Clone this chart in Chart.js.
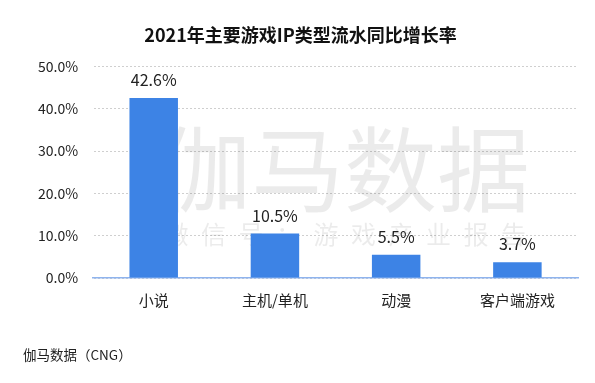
<!DOCTYPE html>
<html>
<head>
<meta charset="utf-8">
<script src="https://cdn.jsdelivr.net/npm/chart.js@4"></script>
<style>
  html, body { margin: 0; padding: 0; background: #fff; }
  #wrap { position: relative; width: 595px; height: 383px; }
</style>
</head>
<body>
<div id="wrap"><canvas id="chart" width="595" height="383"></canvas></div>
<script>
const categories = ['小说', '主机/单机', '动漫', '客户端游戏'];
const growth = [42.6, 10.5, 5.5, 3.7];
const yTicks = [0, 10, 20, 30, 40, 50];

const FONT = "'Noto Sans CJK SC', 'Noto Sans', sans-serif";

const watermark = {
    id: 'watermark',
    beforeDatasetsDraw(chart) {
        const ctx = chart.ctx;
        ctx.save();
        ctx.fillStyle = 'rgba(0,0,0,0.08)';
        ctx.textAlign = 'center';
        ctx.textBaseline = 'middle';
        ctx.font = '93px ' + FONT;
        ctx.fillText('伽马数据', 344, 170);
        ctx.font = '25px ' + FONT;
        const small = '微信号：游戏产业报告'.split('');
        small.forEach((ch, i) => ctx.fillText(ch, 176 + i * 37.5, 234));
        ctx.restore();
    },
};

const valueLabels = {
    id: 'valueLabels',
    afterDatasetsDraw(chart) {
        const ctx = chart.ctx;
        const meta = chart.getDatasetMeta(0);
        ctx.save();
        ctx.fillStyle = '#222';
        ctx.font = '16px ' + FONT;
        ctx.textAlign = 'center';
        ctx.textBaseline = 'middle';
        meta.data.forEach((bar, i) => {
            ctx.fillText(growth[i].toFixed(1) + '%', bar.x, bar.y - 18);
        });
        ctx.restore();
    },
};

const footer = {
    id: 'footer',
    afterDraw(chart) {
        const ctx = chart.ctx;
        ctx.save();
        ctx.fillStyle = '#222';
        ctx.font = '13.5px ' + FONT;
        ctx.textAlign = 'left';
        ctx.textBaseline = 'middle';
        ctx.fillText('伽马数据（CNG）', 23, 355);
        ctx.restore();
    },
};

new Chart(document.getElementById('chart'), {
    type: 'bar',
    data: {
        labels: categories,
        datasets: [{
            data: growth,
            backgroundColor: '#3d83e5',
            borderWidth: 0,
            categoryPercentage: 1,
            barPercentage: 0.4,
        }],
    },
    options: {
        responsive: false,
        animation: false,
        layout: { padding: { left: 23, right: 17, bottom: 61, top: 0 } },
        plugins: {
            legend: { display: false },
            tooltip: { enabled: false },
            title: {
                display: true,
                text: '2021年主要游戏IP类型流水同比增长率',
                color: '#111',
                font: { family: FONT, size: 18, weight: 'bold' },
                padding: { top: 24, bottom: 21 },
            },
        },
        scales: {
            x: {
                grid: { display: false, drawTicks: false },
                border: { color: '#8fb4ee', width: 1.5 },
                ticks: { color: '#222', font: { family: FONT, size: 15 }, padding: 13 },
            },
            y: {
                min: 0,
                max: 50,
                afterBuildTicks(axis) { axis.ticks = yTicks.map((v) => ({ value: v })); },
                grid: { color: '#cfcfcf', drawTicks: false, borderDash: [2, 2] },
                border: { display: true, color: 'rgba(0,0,0,0)', dash: [2, 2] },
                ticks: {
                    color: '#222',
                    font: { family: FONT, size: 14 },
                    padding: 15,
                    callback: (v) => v.toFixed(1) + '%',
                },
            },
        },
    },
    plugins: [watermark, valueLabels, footer],
});
</script>
</body>
</html>
